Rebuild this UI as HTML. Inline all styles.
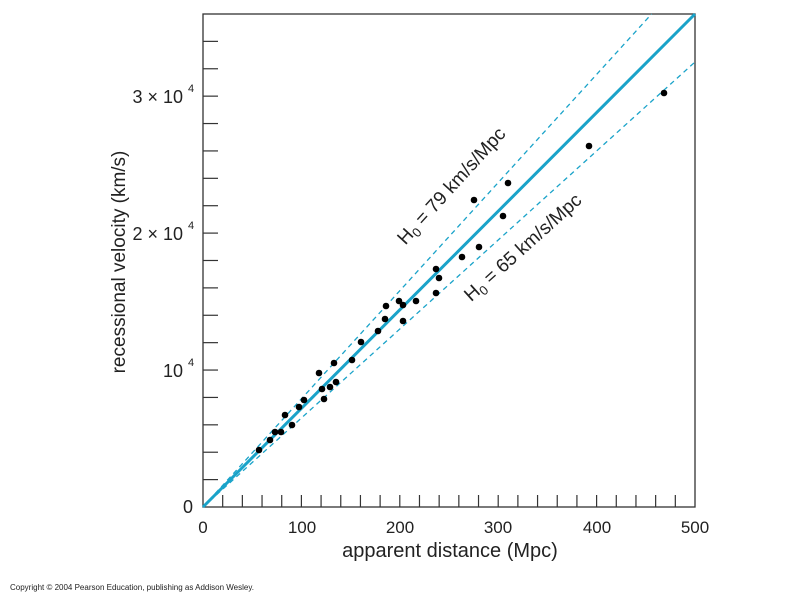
<!DOCTYPE html>
<html><head><style>
body{margin:0;background:#fff;}
svg{display:block;font-family:"Liberation Sans",Arial,sans-serif;}
</style></head><body>
<svg width="800" height="600" viewBox="0 0 800 600">
<rect x="203" y="14" width="492" height="493" fill="none" stroke="#333" stroke-width="1.3"/>
<g stroke="#333" stroke-width="1.2" id="ticks"></g>
<g font-size="17" fill="#222" text-anchor="middle">
<text x="203" y="533">0</text><text x="302" y="533">100</text><text x="400" y="533">200</text><text x="498" y="533">300</text><text x="597" y="533">400</text><text x="695" y="533">500</text>
</g>
<g font-size="18" fill="#222" text-anchor="end">
<text x="193" y="513">0</text>
<text x="183" y="377">10</text><text x="191" y="366" font-size="11" text-anchor="middle">4</text>
<text x="183" y="240">2 × 10</text><text x="191" y="229" font-size="11" text-anchor="middle">4</text>
<text x="183" y="103">3 × 10</text><text x="191" y="92" font-size="11" text-anchor="middle">4</text>
</g>
<text x="450" y="557" font-size="20" fill="#222" text-anchor="middle">apparent distance (Mpc)</text>
<text transform="translate(125,262) rotate(-90)" font-size="19" fill="#222" text-anchor="middle">recessional velocity (km/s)</text>
<text x="10" y="590" font-size="8" fill="#222">Copyright © 2004 Pearson Education, publishing as Addison Wesley.</text>
<g stroke="#1aa3c9" fill="none">
<line x1="203" y1="507" x2="695" y2="14" stroke-width="3"/>
<line x1="203" y1="507" x2="651.6" y2="14" stroke-width="1.3" stroke-dasharray="5,4"/>
<line x1="203" y1="507" x2="695" y2="62" stroke-width="1.3" stroke-dasharray="5,4"/>
</g>
<g fill="#000" id="pts"></g>
<text transform="translate(456,190) rotate(-47.7)" font-size="19" fill="#222" text-anchor="middle">H<tspan font-size="13" dy="4">0</tspan><tspan dy="-4"> = 79 km/s/Mpc</tspan></text>
<text transform="translate(527,252) rotate(-42)" font-size="19" fill="#222" text-anchor="middle">H<tspan font-size="13" dy="4">0</tspan><tspan dy="-4"> = 65 km/s/Mpc</tspan></text>
</svg>
<script>
var t=document.getElementById('ticks'),s='';
for(var i=1;i<25;i++){var x=203+i*19.68;s+='<line x1="'+x+'" y1="507" x2="'+x+'" y2="495"/>';}
for(var j=1;j<18;j++){var y=507-j*27.39;s+='<line x1="203" y1="'+y+'" x2="218" y2="'+y+'"/>';}
t.innerHTML=s;
var p=[[259,450],[270,440],[275,432],[281,432],[285,415],[292,425],[299,407],[304,400],[319,373],[322,389],[324,399],[330,387],[334,363],[336,382],[352,360],[361,342],[378,331],[386,306],[385,319],[399,301],[403,305],[403,321],[416,301],[436,269],[439,278],[436,293],[462,257],[474,200],[479,247],[503,216],[508,183],[589,146],[664,93]];
var q='';p.forEach(function(a){q+='<circle cx="'+a[0]+'" cy="'+a[1]+'" r="3.3"/>';});
document.getElementById('pts').innerHTML=q;
</script>
</body></html>
